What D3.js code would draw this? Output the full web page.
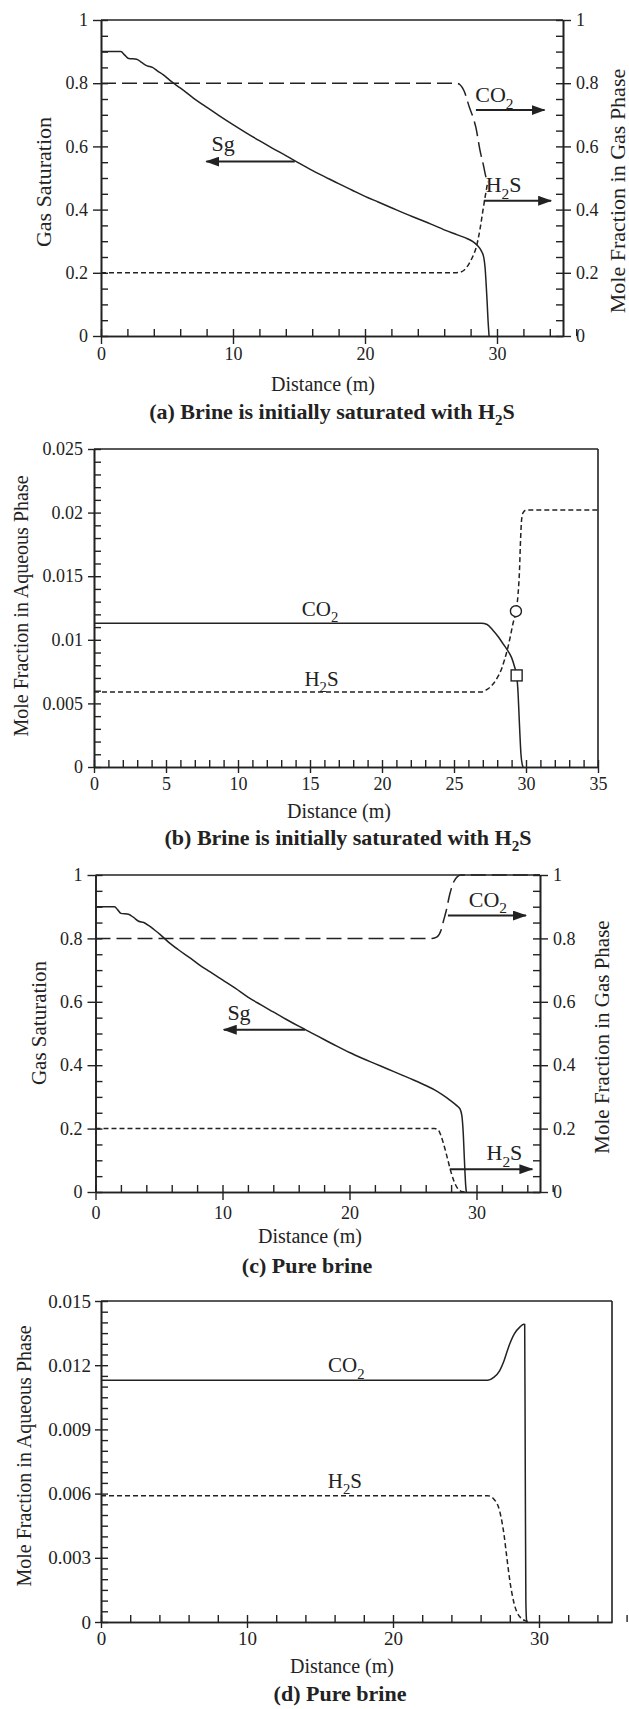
<!DOCTYPE html>
<html><head><meta charset="utf-8">
<script src="https://cdn.jsdelivr.net/npm/d3@7"></script>
<style>
body{margin:0;background:#fff}
svg{display:block}
text{font-family:"Liberation Serif","Times New Roman",serif;fill:#222}
</style>
</head><body>
<svg id="chart" width="629" height="1709"></svg>
<script>
// ---------- DATA ----------
const xTicksMajor10 = [0, 10, 20, 30];
const xTicksMajor5 = [0, 5, 10, 15, 20, 25, 30, 35];

// Panel (a): brine initially saturated with H2S (gas phase)
const sgA = [[0,0.9],[1.5,0.9],[1.8,0.889],[2.1,0.878],[2.7,0.876],[3.1,0.865],[3.5,0.855],[3.9,0.85],[4.3,0.838],[4.7,0.827],[5.2,0.81],[5.6,0.797],[6,0.785],[7,0.753],[8,0.724],[9,0.696],[10,0.669],[11,0.643],[12,0.618],[13,0.594],[14,0.571],[15,0.547],[16,0.524],[17,0.503],[18,0.482],[19,0.462],[20,0.442],[21,0.424],[22,0.406],[23,0.388],[24,0.371],[25,0.354],[26,0.336],[27,0.32],[27.8,0.307],[28.2,0.298],[28.5,0.287],[28.8,0.27],[29.0,0.248],[29.1,0.215],[29.17,0.17],[29.25,0.11],[29.32,0.05],[29.4,0]];
const co2GasA = [[0,0.8],[26.9,0.8],[27.2,0.795],[27.5,0.776],[27.9,0.725],[28.2,0.69],[28.4,0.66],[28.7,0.59],[29.0,0.535],[29.15,0.505],[29.3,0.49]];
const h2sGasA = [[0,0.2],[26.8,0.2],[27.2,0.202],[27.5,0.208],[27.9,0.23],[28.2,0.255],[28.4,0.277],[28.7,0.335],[28.9,0.388],[29.1,0.44],[29.3,0.488]];

// Panel (b): brine initially saturated with H2S (aqueous phase)
const co2AqB = [[0,0.0113],[26.9,0.0113],[27.3,0.0112],[27.7,0.01075],[28.1,0.0102],[28.4,0.0097],[28.7,0.0092],[29.0,0.0086],[29.2,0.0079],[29.35,0.0072],[29.45,0.0058],[29.52,0.004],[29.58,0.0025],[29.65,0.001],[29.72,0.0003],[29.8,0]];
const h2sAqB = [[0,0.0059],[26.9,0.0059],[27.3,0.0061],[27.7,0.0065],[28.0,0.007],[28.3,0.0077],[28.5,0.0084],[28.7,0.0092],[28.9,0.0102],[29.1,0.0113],[29.3,0.01225],[29.45,0.0136],[29.55,0.0155],[29.62,0.0178],[29.7,0.0195],[29.8,0.02],[30.0,0.0202],[35,0.0202]];
const circleB = [[29.3, 0.01225]];
const squareB = [[29.35, 0.0072]];

// Panel (c): pure brine (gas phase)
const sgC = [[0,0.9],[1.5,0.9],[1.75,0.89],[2.0,0.879],[2.6,0.876],[3.0,0.866],[3.4,0.854],[3.8,0.85],[4.2,0.84],[4.6,0.828],[5.1,0.812],[5.7,0.79],[6.5,0.765],[7.5,0.737],[8.2,0.716],[9,0.695],[10,0.669],[11,0.643],[12,0.615],[13,0.591],[14,0.568],[15,0.545],[16,0.523],[17,0.502],[18,0.481],[19,0.46],[20,0.44],[21,0.422],[22,0.405],[23,0.388],[24,0.371],[25,0.354],[26,0.336],[26.7,0.322],[27.3,0.307],[27.9,0.29],[28.4,0.274],[28.7,0.262],[28.85,0.24],[28.95,0.19],[29.05,0.1],[29.15,0.02],[29.2,0]];
const co2GasC = [[0,0.8],[26.5,0.8],[26.9,0.805],[27.2,0.825],[27.4,0.855],[27.6,0.885],[27.9,0.94],[28.2,0.978],[28.5,0.995],[28.8,1.0],[35,1.0]];
const h2sGasC = [[0,0.2],[26.7,0.2],[27.0,0.195],[27.2,0.178],[27.4,0.153],[27.75,0.1],[28.0,0.062],[28.2,0.037],[28.5,0.012],[28.8,0.002],[29.2,0]];

// Panel (d): pure brine (aqueous phase)
const co2AqD = [[0,0.0113],[26.5,0.0113],[26.9,0.01143],[27.3,0.01174],[27.6,0.0122],[27.9,0.01282],[28.3,0.01345],[28.7,0.01379],[28.96,0.01391],[29.02,0.0139],[29.06,0.007],[29.1,0.001],[29.15,0]];
const h2sAqD = [[0,0.0059],[26.5,0.0059],[26.9,0.00575],[27.3,0.0052],[27.6,0.0041],[27.8,0.003],[28.0,0.00194],[28.3,0.00085],[28.7,0.00023],[29.1,0.00005],[29.4,0]];

// Annotations (data coordinates)
const labelsA = [{t:"Sg",x:9.26,y:0.585},{t:"CO",s:"2",x:29.8,y:0.74},{t:"H",s:"2",u:"S",x:30.5,y:0.455}];
const arrowsA = [{x1:14.68,y1:0.552,x2:7.98,y2:0.552},{x1:28.4,y1:0.715,x2:33.6,y2:0.715},{x1:29.0,y1:0.428,x2:34.1,y2:0.428}];
const labelsB = [{t:"CO",s:"2",x:15.7,y:0.0119},{t:"H",s:"2",u:"S",x:15.8,y:0.0064}];
const labelsC = [{t:"Sg",x:11.3,y:0.543},{t:"CO",s:"2",x:30.9,y:0.9},{t:"H",s:"2",u:"S",x:32.2,y:0.1}];
const arrowsC = [{x1:16.5,y1:0.512,x2:10.1,y2:0.512},{x1:27.75,y1:0.872,x2:33.9,y2:0.872},{x1:27.9,y1:0.072,x2:34.4,y2:0.072}];
const labelsD = [{t:"CO",s:"2",x:16.8,y:0.01166},{t:"H",s:"2",u:"S",x:16.7,y:0.00626}];

// ---------- DRAWING ----------
const svg = d3.select("#chart");
svg.append("rect").attr("width",629).attr("height",1709).attr("fill","#fff");
const INK = "#222";
svg.append("defs").append("marker")
  .attr("id","arr").attr("markerUnits","userSpaceOnUse")
  .attr("viewBox","0 0 14 10").attr("refX",13).attr("refY",5)
  .attr("markerWidth",14).attr("markerHeight",10).attr("orient","auto")
  .append("path").attr("d","M0,0 L14,5 L0,10 Z").attr("fill",INK);

const fmt = d => d === 0 ? "0" : String(+d.toFixed(4));
const steps = (max, step) => d3.range(0, Math.round(max/step)+1).map(i => +(i*step).toFixed(6));

function styleAxis(sel){
  sel.attr("font-family",null);
  sel.selectAll("path.domain").attr("stroke",INK).attr("stroke-width",1.6);
  sel.selectAll(".tick line").attr("stroke",INK).attr("stroke-width",1.4);
  sel.selectAll(".tick text").attr("fill",INK);
}

function chem(sel, d, fs){
  const t = sel.append("text").attr("font-size",fs).attr("text-anchor","middle");
  t.append("tspan").text(d.t);
  if (d.s) t.append("tspan").attr("dy", fs*0.3).attr("font-size", fs*0.7).text(d.s);
  if (d.u) t.append("tspan").attr("dy", -fs*0.3).text(d.u);
  return t;
}

function panel(o){
  const g = svg.append("g");
  const x = d3.scaleLinear().domain([0,35]).range([o.l,o.r]);
  const y = d3.scaleLinear().domain([0,o.yMax]).range([o.b,o.t]);

  g.append("g").attr("transform",`translate(${o.l},0)`)
    .call(d3.axisLeft(y).tickValues(steps(o.yMax,o.yMinor)).tickSize(-7).tickSizeOuter(0).tickFormat(""))
    .call(styleAxis);
  g.append("g").attr("transform",`translate(${o.l},0)`)
    .call(d3.axisLeft(y).tickValues(steps(o.yMax,o.yMajor)).tickSize(o.outTick).tickPadding(o.yPad).tickSizeOuter(0).tickFormat(fmt))
    .call(styleAxis)
    .call(s=>s.selectAll("text").attr("font-size",o.tickFs));

  g.append("g").attr("transform",`translate(0,${o.b})`)
    .call(d3.axisBottom(x).tickValues(steps(35,o.xMinor)).tickSize(-7).tickSizeOuter(0).tickFormat(""))
    .call(styleAxis);
  g.append("g").attr("transform",`translate(0,${o.b})`)
    .call(d3.axisBottom(x).tickValues(o.xMajor).tickSize(o.outTick).tickPadding(o.xPad).tickSizeOuter(0).tickFormat(d3.format("d")))
    .call(styleAxis)
    .call(s=>s.selectAll("text").attr("font-size",o.tickFs));

  g.append("line").attr("x1",o.l).attr("x2",o.r).attr("y1",o.t).attr("y2",o.t)
    .attr("stroke",INK).attr("stroke-width",1.6);

  if (o.rightAxis){
    g.append("g").attr("transform",`translate(${o.r},0)`)
      .call(d3.axisRight(y).tickValues(steps(o.yMax,o.yMinor)).tickSize(-7).tickSizeOuter(0).tickFormat(""))
      .call(styleAxis);
    g.append("g").attr("transform",`translate(${o.r},0)`)
      .call(d3.axisRight(y).tickValues(steps(o.yMax,o.yMajor)).tickSize(o.outTick).tickPadding(o.yPad).tickSizeOuter(0).tickFormat(fmt))
      .call(styleAxis)
      .call(s=>s.selectAll("text").attr("font-size",o.tickFs));
  } else {
    g.append("line").attr("x1",o.r).attr("x2",o.r).attr("y1",o.t).attr("y2",o.b)
      .attr("stroke",INK).attr("stroke-width",1.6);
  }

  const line = d3.line().x(d=>x(d[0])).y(d=>y(d[1])).curve(d3.curveMonotoneX);
  o.series.forEach(s=>{
    g.append("path").datum(s.data).attr("d",line).attr("fill","none")
      .attr("stroke",INK).attr("stroke-width",1.5)
      .attr("stroke-dasharray",s.dash||null);
  });

  (o.circles||[]).forEach(d=>{
    g.append("circle").attr("cx",x(d[0])).attr("cy",y(d[1])).attr("r",5.5)
      .attr("fill","#fff").attr("stroke",INK).attr("stroke-width",1.4);
  });
  (o.squares||[]).forEach(d=>{
    g.append("rect").attr("x",x(d[0])-5.5).attr("y",y(d[1])-5.5).attr("width",11).attr("height",11)
      .attr("fill","#fff").attr("stroke",INK).attr("stroke-width",1.4);
  });

  (o.arrows||[]).forEach(a=>{
    g.append("line").attr("x1",x(a.x1)).attr("y1",y(a.y1)).attr("x2",x(a.x2)).attr("y2",y(a.y2))
      .attr("stroke",INK).attr("stroke-width",2).attr("marker-end","url(#arr)");
  });

  (o.labels||[]).forEach(d=>{
    chem(g,d,o.annFs).attr("x",x(d.x)).attr("y",y(d.y));
  });

  g.append("text").attr("font-size",20).attr("text-anchor","middle")
    .attr("x",o.xTitle[0]).attr("y",o.xTitle[1]).text("Distance (m)");
  g.append("text").attr("font-size",o.yTitleFs).attr("text-anchor","middle")
    .attr("transform",`translate(${o.yTitle[0]},${o.yTitle[1]}) rotate(-90)`).text(o.yTitleText);
  if (o.rightAxis){
    g.append("text").attr("font-size",o.yTitleFs).attr("text-anchor","middle")
      .attr("transform",`translate(${o.y2Title[0]},${o.y2Title[1]}) rotate(-90)`).text("Mole Fraction in Gas Phase");
  }
  const cap = g.append("text").attr("font-size",22).attr("font-weight","bold").attr("text-anchor","middle")
    .attr("x",o.cap[0]).attr("y",o.cap[1]);
  cap.append("tspan").text(o.capText);
  if (o.capH2S){
    cap.append("tspan").text("H");
    cap.append("tspan").attr("dy",6).attr("font-size",15).text("2");
    cap.append("tspan").attr("dy",-6).text("S");
  }
}

panel({l:101,r:563,t:20,b:336,yMax:1,yMajor:0.2,yMinor:0.05,xMajor:xTicksMajor10,xMinor:2,
  outTick:8,yPad:5,xPad:3,tickFs:18,rightAxis:true,yTitleFs:22,annFs:22,
  series:[{data:sgA},{data:co2GasA,dash:"15,6"},{data:h2sGasA,dash:"5,3"}],
  labels:labelsA,arrows:arrowsA,
  xTitle:[323,391],yTitle:[51,182],y2Title:[625,191],yTitleText:"Gas Saturation",
  cap:[332,419],capText:"(a) Brine is initially saturated with ",capH2S:true});

panel({l:94,r:598,t:449,b:767,yMax:0.025,yMajor:0.005,yMinor:0.001,xMajor:xTicksMajor5,xMinor:1,
  outTick:6,yPad:5,xPad:4,tickFs:18,rightAxis:false,yTitleFs:20,annFs:21,
  series:[{data:co2AqB},{data:h2sAqB,dash:"5,3"}],
  circles:circleB,squares:squareB,labels:labelsB,
  xTitle:[339,818],yTitle:[28,606],yTitleText:"Mole Fraction in Aqueous Phase",
  cap:[348,845],capText:"(b) Brine is initially saturated with ",capH2S:true});

panel({l:95.5,r:540,t:875,b:1192,yMax:1,yMajor:0.2,yMinor:0.05,xMajor:xTicksMajor10,xMinor:2,
  outTick:8,yPad:5,xPad:6,tickFs:18,rightAxis:true,yTitleFs:21,annFs:22,
  series:[{data:sgC},{data:co2GasC,dash:"15,6"},{data:h2sGasC,dash:"5,3"}],
  labels:labelsC,arrows:arrowsC,
  xTitle:[310,1243],yTitle:[46,1023],y2Title:[609,1037],yTitleText:"Gas Saturation",
  cap:[307,1273],capText:"(c) Pure brine",capH2S:false});

panel({l:101,r:612,t:1301,b:1622,yMax:0.015,yMajor:0.003,yMinor:0.0005,xMajor:xTicksMajor10,xMinor:2,
  outTick:6,yPad:4,xPad:4,tickFs:19,rightAxis:false,yTitleFs:20,annFs:21,
  series:[{data:co2AqD},{data:h2sAqD,dash:"5,3"}],
  labels:labelsD,
  xTitle:[342,1673],yTitle:[31,1456],yTitleText:"Mole Fraction in Aqueous Phase",
  cap:[340,1701],capText:"(d) Pure brine",capH2S:false});
</script>
</body></html>
